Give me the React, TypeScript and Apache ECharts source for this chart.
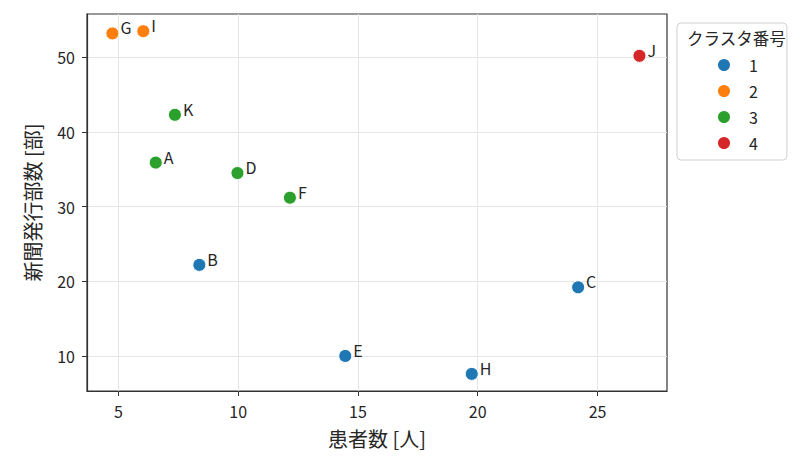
import React, { useEffect, useRef } from "react";
import * as echarts from "echarts";

const pointNames = ["A", "B", "C", "D", "E", "F", "G", "H", "I", "J", "K"];
const patients = [6.56, 8.38, 24.19, 9.97, 14.47, 12.16, 4.75, 19.75, 6.04, 26.75, 7.36];
const circulation = [35.9, 22.2, 19.2, 34.5, 10.0, 31.2, 53.2, 7.6, 53.5, 50.2, 42.3];
const clusters = [3, 1, 1, 3, 1, 3, 2, 1, 2, 4, 3];
const clusterIds = [1, 2, 3, 4];
const clusterColors = ["#1f77b4", "#ff7f0e", "#2ca02c", "#d62728"];
const xTicks = [5, 10, 15, 20, 25];
const yTicks = [10, 20, 30, 40, 50];

const FONT = "'Noto Sans CJK JP', 'Noto Sans', sans-serif";
const TXT = "#262626";

export default function App() {
  const ref = useRef<HTMLDivElement>(null);
  useEffect(() => {
    if (!ref.current) return;
    const chart = echarts.init(ref.current, undefined, { renderer: "svg" });
    const series = clusterIds.map((cid, ci) => ({
      type: "scatter",
      name: String(cid),
      symbol: "circle",
      symbolSize: 13,
      itemStyle: { color: clusterColors[ci], borderColor: "#fff", borderWidth: 1, opacity: 1 },
      label: {
        show: true,
        position: "right",
        distance: 1,
        offset: [0, -6],
        formatter: (p: any) => p.name,
        fontSize: 16,
        fontFamily: FONT,
        color: TXT,
      },
      data: pointNames
        .map((n, i) => ({ name: n, value: [patients[i], circulation[i]], c: clusters[i] }))
        .filter((d) => d.c === cid)
        .map((d) => ({ name: d.name, value: d.value })),
    }));
    const axisCommon = {
      type: "value",
      splitNumber: 5,
      axisLine: { show: true, lineStyle: { color: "#333", width: 1.2 } },
      axisTick: { show: true, length: 5, lineStyle: { color: "#333", width: 1 } },
      splitLine: { show: true, lineStyle: { color: "#e6e6e6", width: 1 } },
      nameLocation: "middle",
      nameTextStyle: { fontSize: 20, lineHeight: 20, fontFamily: FONT, color: TXT },
    };
    chart.setOption({
      animation: false,
      textStyle: { fontFamily: FONT },
      grid: {
        left: 87,
        top: 14,
        width: 580,
        height: 377,
        show: true,
        borderColor: "#333",
        borderWidth: 1.2,
        backgroundColor: "transparent",
      },
      xAxis: {
        ...axisCommon,
        min: 3.69,
        max: 27.9,
        name: "患者数 [人]",
        nameGap: 37,
        axisTick: { ...axisCommon.axisTick, customValues: xTicks },
        axisLabel: { customValues: xTicks, fontSize: 16, lineHeight: 16, fontFamily: FONT, color: TXT, margin: 12 },
      },
      yAxis: {
        ...axisCommon,
        min: 5.31,
        max: 55.8,
        name: "新聞発行部数 [部]",
        nameGap: 45,
        nameRotate: 90,
        axisTick: { ...axisCommon.axisTick, customValues: yTicks },
        axisLabel: { customValues: yTicks, fontSize: 16, lineHeight: 16, fontFamily: FONT, color: TXT, margin: 12 },
      },
      legend: {
        orient: "vertical",
        left: 677,
        top: 23,
        padding: [34, 29, 9, 39],
        backgroundColor: "#fff",
        borderColor: "#d0d0d0",
        borderWidth: 1,
        borderRadius: 4,
        itemWidth: 14,
        itemHeight: 14,
        itemGap: 10,
        icon: "circle",
        textStyle: { fontSize: 16, fontFamily: FONT, color: TXT, padding: [0, 0, 0, 13] },
        data: clusterIds.map((c) => String(c)),
      },
      graphic: [
        {
          type: "text",
          left: 687,
          top: 30,
          z: 100,
          style: { text: "クラスタ番号", fontSize: 16.5, fontFamily: FONT, fill: TXT },
        },
      ],
      series,
    });
    return () => chart.dispose();
  }, []);
  return (
    <div
      ref={ref}
      style={{ position: "absolute", left: 0, top: 0, width: 812, height: 459, background: "#fff" }}
    />
  );
}
